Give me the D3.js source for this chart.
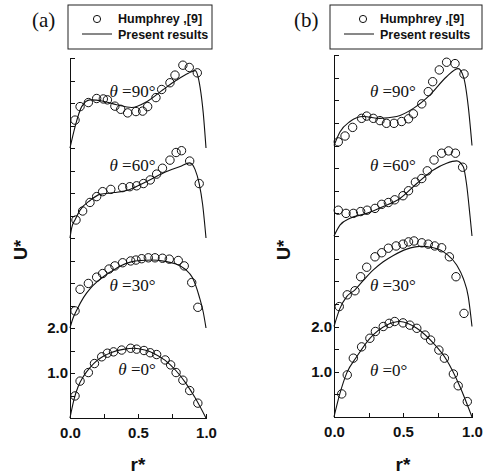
<!DOCTYPE html>
<html>
<head>
<meta charset="utf-8">
<script src="https://cdn.jsdelivr.net/npm/d3@7/dist/d3.min.js"></script>
<style>
  body { margin: 0; background: #fff; }
  .axis path, .axis line { fill: none; stroke: #111; shape-rendering: crispEdges; }
  .axis text { font-family: "Liberation Sans", Arial, sans-serif; font-size: 15px; font-weight: bold; fill: #111; }
  .fit { fill: none; stroke: #111; stroke-width: 1.1; }
  .hum { fill: none; stroke: #111; stroke-width: 1; }
  .theta { font-family: "Liberation Serif", "Times New Roman", serif; font-size: 17px; fill: #111; }
  .lgd { font-family: "Liberation Sans", Arial, sans-serif; font-size: 12.5px; font-weight: bold; fill: #111; }
  .ttl { font-family: "Liberation Sans", Arial, sans-serif; font-size: 18px; font-weight: bold; fill: #111; }
</style>
</head>
<body>
<div id="chart"></div>
<script>
// profiles are stacked: each angle is shifted up by its offset
var angles = ["0", "30", "60", "90"];
var offsets = [0, 2, 4, 6];
var xTicks = [0, 0.25, 0.5, 0.75, 1.0];
var xLabels = {0: "0.0", 0.5: "0.5", 1: "1.0"};
var yTicks = d3.range(0, 8.01, 0.5);
var yLabels = {1: "1.0", 2: "2.0"};

// panel (a) - Humphrey [9] circles, [r*, U*] relative to offset
var humA0 = [[0.037,0.49],[0.074,0.82],[0.135,1.01],[0.18,1.21],[0.233,1.36],[0.275,1.44],[0.32,1.47],[0.38,1.51],[0.446,1.55],[0.49,1.53],[0.544,1.50],[0.59,1.45],[0.637,1.41],[0.70,1.29],[0.74,1.18],[0.78,1.01],[0.83,0.84],[0.88,0.61],[0.94,0.33]];
var humA30 = [[0.037,0.38],[0.074,0.86],[0.135,0.99],[0.196,1.13],[0.24,1.21],[0.287,1.31],[0.33,1.38],[0.387,1.45],[0.446,1.49],[0.485,1.51],[0.527,1.54],[0.576,1.56],[0.625,1.56],[0.68,1.55],[0.73,1.53],[0.796,1.50],[0.84,1.38],[0.895,1.01],[0.94,0.46]];
var humA60 = [[0.044,0.40],[0.093,0.60],[0.147,0.79],[0.196,0.92],[0.24,1.03],[0.30,1.08],[0.387,1.12],[0.44,1.14],[0.49,1.16],[0.54,1.21],[0.59,1.29],[0.637,1.42],[0.68,1.55],[0.735,1.73],[0.78,1.90],[0.82,1.94],[0.88,1.71],[0.95,1.21]];
var humA90 = [[0.037,0.62],[0.074,0.92],[0.135,1.01],[0.196,1.10],[0.245,1.09],[0.275,1.07],[0.33,0.93],[0.373,0.86],[0.424,0.78],[0.485,0.81],[0.534,0.82],[0.571,0.92],[0.632,1.12],[0.674,1.30],[0.735,1.45],[0.772,1.62],[0.83,1.84],[0.877,1.79],[0.936,1.67]];

// panel (a) - present results
var fitA0 = [[0,0],[0.01,0.15],[0.03,0.42],[0.06,0.7],[0.1,0.93],[0.15,1.13],[0.2,1.28],[0.3,1.45],[0.4,1.53],[0.47,1.55],[0.55,1.51],[0.62,1.43],[0.7,1.28],[0.78,1.05],[0.85,0.78],[0.92,0.45],[1.0,0]];
var fitA30 = [[0,0],[0.02,0.2],[0.05,0.4],[0.1,0.68],[0.15,0.88],[0.2,1.03],[0.25,1.15],[0.3,1.25],[0.37,1.38],[0.45,1.47],[0.52,1.5],[0.6,1.51],[0.7,1.48],[0.78,1.42],[0.85,1.3],[0.9,1.12],[0.95,0.7],[0.98,0.35],[1.0,0]];
var fitA60 = [[0,0],[0.012,0.22],[0.04,0.42],[0.074,0.62],[0.15,0.84],[0.22,0.97],[0.33,1.01],[0.44,1.08],[0.56,1.25],[0.69,1.45],[0.81,1.59],[0.88,1.67],[0.92,1.52],[0.95,1.21],[0.975,0.75],[1.0,0]];
var fitA90 = [[0,0],[0.037,0.47],[0.086,0.92],[0.147,1.07],[0.245,1.04],[0.343,0.96],[0.454,0.9],[0.564,1.03],[0.686,1.3],[0.785,1.51],[0.87,1.66],[0.92,1.72],[0.956,1.36],[0.98,0.77],[1.0,0]];

// panel (b) - Humphrey [9] circles
var humB0 = [[0.056,0.51],[0.096,0.93],[0.14,1.30],[0.2,1.55],[0.26,1.74],[0.30,1.89],[0.357,2.00],[0.40,2.07],[0.44,2.11],[0.50,2.08],[0.55,2.03],[0.60,1.96],[0.66,1.81],[0.70,1.70],[0.76,1.48],[0.80,1.30],[0.865,0.95],[0.90,0.69],[0.966,0.34]];
var humB30 = [[0.038,0.44],[0.096,0.70],[0.152,0.79],[0.193,1.10],[0.237,1.31],[0.297,1.54],[0.346,1.63],[0.394,1.73],[0.45,1.78],[0.50,1.82],[0.54,1.87],[0.58,1.89],[0.636,1.85],[0.683,1.82],[0.73,1.78],[0.78,1.74],[0.836,1.54],[0.884,1.10],[0.942,0.29]];
var humB60 = [[0.031,0.57],[0.087,0.50],[0.14,0.50],[0.193,0.54],[0.24,0.57],[0.297,0.61],[0.346,0.70],[0.394,0.74],[0.44,0.80],[0.50,0.89],[0.54,1.00],[0.59,1.19],[0.636,1.27],[0.676,1.44],[0.725,1.68],[0.78,1.83],[0.83,1.88],[0.88,1.83],[0.932,1.52]];
var humB90 = [[0.031,0.08],[0.08,0.21],[0.135,0.40],[0.2,0.60],[0.237,0.65],[0.285,0.60],[0.333,0.55],[0.38,0.49],[0.435,0.49],[0.49,0.53],[0.54,0.59],[0.575,0.70],[0.636,0.92],[0.683,1.19],[0.715,1.41],[0.763,1.67],[0.816,1.84],[0.877,1.81],[0.942,1.58]];

// panel (b) - present results
var fitB0 = [[0,0],[0.043,0.52],[0.092,0.97],[0.164,1.33],[0.26,1.74],[0.38,2.03],[0.478,2.11],[0.6,1.96],[0.72,1.63],[0.816,1.26],[0.913,0.67],[1.0,0]];
var fitB30 = [[0,0],[0.043,0.4],[0.092,0.66],[0.152,0.81],[0.213,1.02],[0.285,1.25],[0.357,1.43],[0.43,1.57],[0.527,1.71],[0.623,1.77],[0.72,1.74],[0.816,1.6],[0.889,1.36],[0.937,1.06],[0.973,0.66],[1.0,0]];
var fitB60 = [[0,0],[0.043,0.24],[0.116,0.39],[0.237,0.5],[0.357,0.65],[0.478,0.83],[0.6,1.16],[0.72,1.46],[0.816,1.61],[0.889,1.66],[0.937,1.53],[0.96,1.16],[0.986,0.43],[1.0,0]];
var fitB90 = [[0,0],[0.043,0.3],[0.116,0.53],[0.212,0.64],[0.333,0.6],[0.454,0.64],[0.575,0.82],[0.696,1.12],[0.816,1.52],[0.9,1.7],[0.94,1.5],[0.973,0.86],[1.0,0]];

// theta label anchors [r*, U*] (absolute, baseline)
var labA = [[0.355,0.95],[0.29,2.82],[0.29,5.48],[0.29,7.13]];
var labB = [[0.26,0.9],[0.26,2.78],[0.26,5.44],[0.26,7.07]];

var width = 485, height = 476;
var svg = d3.select("#chart").append("svg")
  .attr("width", width).attr("height", height);

var panels = [
  {tag: "(a)", xr: [70, 206], yr: [418, 58], hum: [humA0, humA30, humA60, humA90],
   fit: [fitA0, fitA30, fitA60, fitA90], lab: labA, box: [68, 5, 144, 44], ux: 27},
  {tag: "(b)", xr: [334, 472], yr: [417, 55], hum: [humB0, humB30, humB60, humB90],
   fit: [fitB0, fitB30, fitB60, fitB90], lab: labB, box: [330, 5, 152, 44], ux: 290}
];

panels.forEach(function(p) {
  var x = d3.scaleLinear().domain([0, 1]).range(p.xr);
  var y = d3.scaleLinear().domain([0, 8]).range(p.yr);
  var g = svg.append("g");

  g.append("g").attr("class", "axis")
    .attr("transform", "translate(0," + p.yr[0] + ")")
    .call(d3.axisBottom(x).tickValues(xTicks).tickSizeInner(-4).tickSizeOuter(0).tickPadding(9)
      .tickFormat(function(d) { return xLabels[d] || ""; }));

  g.append("g").attr("class", "axis")
    .attr("transform", "translate(" + p.xr[0] + ",0)")
    .call(d3.axisLeft(y).tickValues(yTicks).tickSizeInner(-5).tickSizeOuter(0).tickPadding(2)
      .tickFormat(function(d) { return yLabels[d] || ""; }));

  var line = d3.line()
    .x(function(d) { return x(d[0]); })
    .y(function(d) { return y(d[1]); })
    .curve(d3.curveMonotoneX);

  angles.forEach(function(a, i) {
    var off = offsets[i];
    var shift = function(d) { return [d[0], d[1] + off]; };

    g.append("path").attr("class", "fit").attr("d", line(p.fit[i].map(shift)));

    g.selectAll(".hum" + i).data(p.hum[i].map(shift)).enter()
      .append("circle").attr("class", "hum hum" + i)
      .attr("cx", function(d) { return x(d[0]); })
      .attr("cy", function(d) { return y(d[1]); })
      .attr("r", 4.2);

    var t = g.append("text").attr("class", "theta")
      .attr("x", x(p.lab[i][0])).attr("y", y(p.lab[i][1]));
    t.append("tspan").attr("font-style", "italic").text("θ");
    t.append("tspan").text(" =" + a + "°");
  });

  // legend
  var b = p.box;
  g.append("rect").attr("x", b[0]).attr("y", b[1]).attr("width", b[2]).attr("height", b[3])
    .attr("fill", "none").attr("stroke", "#222").attr("stroke-width", 1);
  g.append("circle").attr("class", "hum").attr("cx", b[0] + 29 + (b[2] - 144) * 0.5).attr("cy", 19).attr("r", 3.6);
  g.append("line").attr("x1", b[0] + 14).attr("x2", b[0] + 44).attr("y1", 34).attr("y2", 34)
    .attr("stroke", "#111").attr("stroke-width", 1);
  g.append("text").attr("class", "lgd").attr("x", b[0] + 50).attr("y", 23).text("Humphrey ,[9]");
  g.append("text").attr("class", "lgd").attr("x", b[0] + 50).attr("y", 39).text("Present results");

  // panel tag
  g.append("text").attr("x", b[0] - 36).attr("y", 27)
    .style("font-family", "'Liberation Serif', serif").style("font-size", "21px").attr("fill", "#111")
    .text(p.tag);

  // axis titles
  g.append("text").attr("class", "ttl").attr("text-anchor", "middle")
    .attr("transform", "translate(" + p.ux + ",250) rotate(-90)")
    .text("U*");
  g.append("text").attr("class", "ttl").attr("text-anchor", "middle")
    .style("font-size", "19px")
    .attr("x", x(0.5)).attr("y", 471).text("r*");
});
</script>
</body>
</html>
